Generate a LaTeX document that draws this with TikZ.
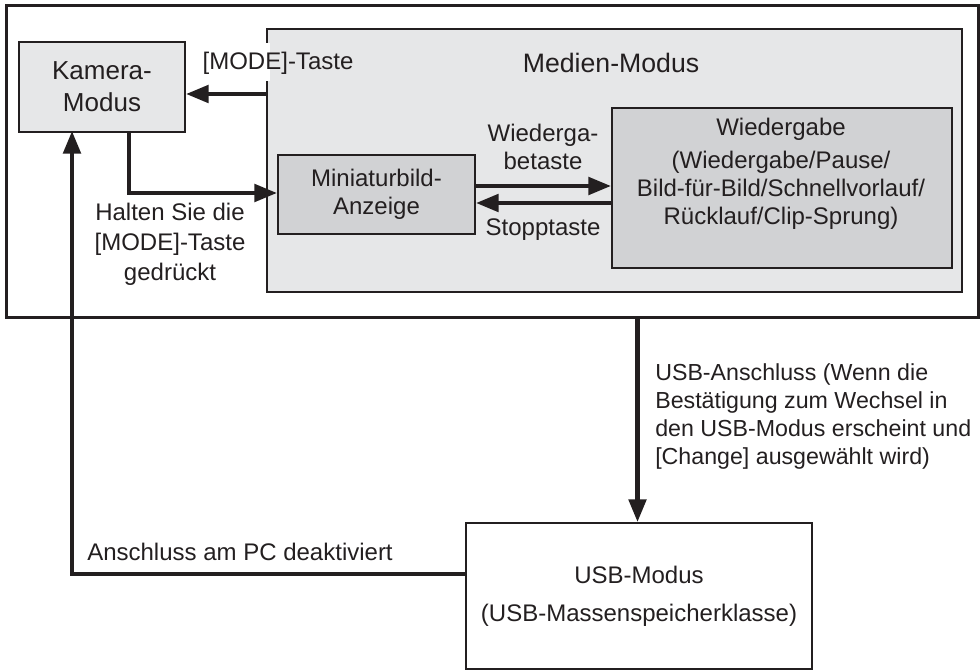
\documentclass[tikz,border=0pt]{standalone}
\usepackage{fontspec}
\setmainfont{Liberation Sans}
\usetikzlibrary{arrows.meta}
\definecolor{ink}{HTML}{231F20}
\definecolor{lightfill}{HTML}{E6E7E8}
\definecolor{darkfill}{HTML}{D1D2D4}
\tikzset{
  box/.style={draw=ink, line width=1.5pt, inner sep=0pt, anchor=north west, align=center, text=ink},
  lbl/.style={inner sep=0pt, text=ink, font=\fontsize{18pt}{21pt}\selectfont},
  conn/.style={draw=ink, line width=3.2pt, -{Triangle[length=17pt,width=13pt]}},
  plain/.style={draw=ink, line width=3.2pt},
}
\begin{document}
\begin{tikzpicture}[x=0.75pt,y=-0.75pt]
\useasboundingbox (0,0) rectangle (980,670);
% outer frame
\node[box, line width=1.9pt, minimum width=729pt, minimum height=234pt] (outer) at (5,4) {};
% Medien box
\node[box, fill=lightfill, minimum width=521.25pt, minimum height=197.25pt] (medien) at (266,28) {};
\fill[white] (262,43) rectangle (270,81);
\node[lbl, font=\fontsize{20pt}{24pt}\selectfont] (medienlbl) at (611,63) {Medien-Modus};
% Kamera
\node[box, fill=lightfill, minimum width=124.5pt, minimum height=67.5pt,
      font=\fontsize{19.5pt}{24pt}\selectfont] (kamera) at (18,41) {Kamera-\\Modus};
% Miniatur
\node[box, fill=darkfill, minimum width=147.75pt, minimum height=59.25pt,
      font=\fontsize{18pt}{21pt}\selectfont] (mini) at (277,154) {Miniaturbild-\\Anzeige};
% Wiedergabe
\node[box, fill=darkfill, minimum width=255pt, minimum height=120pt] (wieder) at (611,107) {};
\node[lbl, align=center] (wiedertext) at (781,174) {Wiedergabe\\[3.5pt](Wiedergabe/Pause/\\Bild-für-Bild/Schnellvorlauf/\\Rücklauf/Clip-Sprung)};
% USB
\node[box, minimum width=259.5pt, minimum height=109.5pt,
      font=\fontsize{18pt}{28.5pt}\selectfont] (usb) at (465,522) {USB-Modus\\(USB-Massenspeicherklasse)};

% labels
\node[lbl] (modetaste) at (278,63) {[MODE]-Taste};
\node[lbl, align=center, font=\fontsize{18pt}{22.5pt}\selectfont] (halten) at (170,244) {Halten Sie die\\{}[MODE]-Taste\\gedrückt};
\node[lbl, align=center] (wtaste) at (543,147) {Wiederga-\\betaste};
\node[lbl] (stopp) at (543,230) {Stopptaste};
\node[lbl, align=left, anchor=west, font=\fontsize{17.4pt}{21pt}\selectfont] (usblbl) at (655,416) {USB-Anschluss (Wenn die\\Bestätigung zum Wechsel in\\den USB-Modus erscheint und\\{}[Change] ausgewählt wird)};
\node[lbl, anchor=west] (pclbl) at (87,552) {Anschluss am PC deaktiviert};

% connectors
\coordinate (m1) at (medien.west |- 0,94);
\draw[conn] (m1) -- (kamera.east |- m1);
\coordinate (k1) at (129,131);
\draw[conn] (k1) -- (129,193) -- (mini.west |- 0,193);
\draw[conn] (mini.east |- 0,186) -- (wieder.west |- 0,186);
\draw[conn] (wieder.west |- 0,203) -- (mini.east |- 0,203);
\coordinate (o1) at (637.5,316);
\draw[conn] (o1) -- (usb.north -| o1);
\coordinate (u1) at (usb.west |- 0,574);
\draw[conn] (u1) -- (72,574) -- (72,131);
\end{tikzpicture}
\end{document}
